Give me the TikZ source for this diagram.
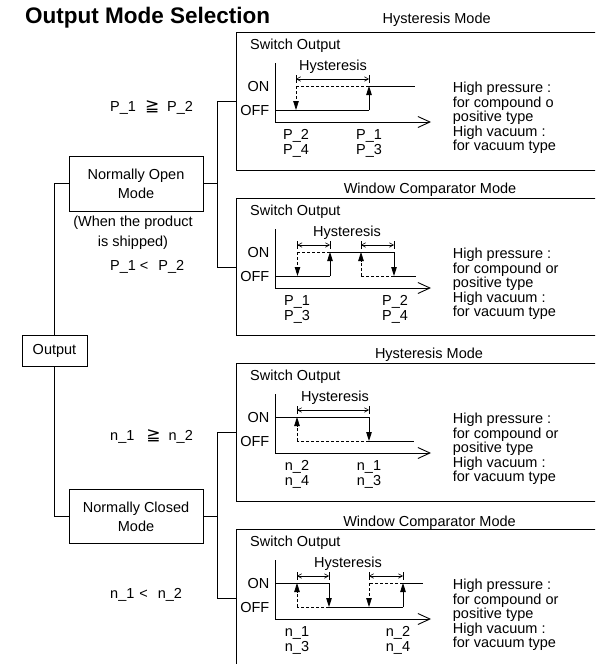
\documentclass[tikz,border=0pt]{standalone}
\usepackage{fontspec}
\setmainfont{Liberation Sans}
\newfontfamily\symfont{DejaVu Sans}
\usetikzlibrary{arrows.meta}

\begin{document}
\begin{tikzpicture}[x=1pt,y=-1pt]
% ----- columns (x) -----
\def\xAxis{275}
\def\xTip{431}
\def\xNote{452.7}

% ----- panel tops (y) -----
\def\yA{32}
\def\yB{198}
\def\yC{363}
\def\yD{529}

% levels, measured from a panel top
\def\yOn{54}
\def\yOff{78}
\def\yAx{90}
\def\yDim{47}

% styles
\tikzset{
  txt/.style={inner sep=0pt, font=\fontsize{14.5}{14.5}\selectfont},
  box/.style={draw, line width=0.9pt, align=center, font=\fontsize{14.5}{18.7}\selectfont},
  panel/.style={draw, line width=0.9pt, anchor=north west, minimum width=364pt, inner sep=0pt},
  pair/.style={txt, align=center, anchor=north, font=\fontsize{14.5}{15}\selectfont},
  note/.style={txt, align=left, anchor=north west},
  link/.style={line width=0.9pt},
  sig/.style={line width=1pt},
  dsig/.style={line width=0.8pt, dash pattern=on 3pt off 2pt},
  sw/.style={-{Triangle[length=9pt,width=5.5pt]}},
  axis/.style={line width=0.9pt, -{Straight Barb[length=12pt,width=11pt]}},
  tick/.style={line width=0.6pt},
  dim/.style={line width=0.6pt, {Straight Barb[length=4pt,width=4.5pt]}-{Straight Barb[length=4pt,width=4.5pt]}}
}
\newcommand\geqsign{{\symfont\fontsize{17}{17}\selectfont ≧}}

\useasboundingbox (0,0) rectangle (595,664);
\clip (0,0) rectangle (595,664);

% ----- title -----
\node[anchor=base west, inner sep=0pt, font=\fontsize{22.5}{27}\selectfont\bfseries] (title) at (25,23.3) {Output Mode Selection};

% ----- tree -----
\node[box, minimum width=65pt, minimum height=31pt] (out) at (54.5,350.5) {Output};
\node[box, minimum width=134pt, minimum height=55pt] (no) at (136,183.5) {Normally Open\\Mode};
\node[box, minimum width=134pt, minimum height=54pt] (nc) at (136,516.5) {Normally Closed\\Mode};
\node[txt, align=center, anchor=north, font=\fontsize{14.5}{20}\selectfont] (ship) at (133,216) {(When the product\\is shipped)};

\node[txt, anchor=base west] (condA) at (110,111.2) {P\_1\hspace{9pt}\geqsign\hspace{8pt}P\_2};
\node[txt, anchor=base west] (condB) at (110,270.2) {P\_1\hspace{4pt}<\hspace{10pt}P\_2};
\node[txt, anchor=base west] (condC) at (110,440.2) {n\_1\hspace{12pt}\geqsign\hspace{8pt}n\_2};
\node[txt, anchor=base west] (condD) at (110,598.2) {n\_1\hspace{5pt}<\hspace{10pt}n\_2};

% ----- panels -----
\node[panel, minimum height=138pt] (pA) at (236,\yA) {};
\node[panel, minimum height=137pt] (pB) at (236,\yB) {};
\node[panel, minimum height=138pt] (pC) at (236,\yC) {};
\node[panel, minimum height=138pt] (pD) at (236,\yD) {};

\node[txt, anchor=base] (tA) at (436.7,23.2) {Hysteresis Mode};
\node[txt, anchor=base] (tB) at (430,193.2) {Window Comparator Mode};
\node[txt, anchor=base] (tC) at (429,358.2) {Hysteresis Mode};
\node[txt, anchor=base] (tD) at (429.5,526.9) {Window Comparator Mode};

% ----- connectors -----
\draw[link] (out.north) |- (no.west);
\draw[link] (out.south) |- (nc.west);
\draw[link] (no.east) -- ++(14,0) coordinate (noSplit);
\draw[link] (pA.west) -| (noSplit) |- (pB.west);
\draw[link] (nc.east) -- ++(14,0) coordinate (ncSplit);
\draw[link] (pC.west) -| (ncSplit) |- (pD.west);

% ===== panel A : hysteresis, normally open =====
\begin{scope}[shift={(0,\yA)}]
\node[txt, anchor=base west] (swA) at (250,17) {Switch Output};
\node[txt, anchor=base east] (onA) at (269.5,59) {ON};
\node[txt, anchor=base east] (offA) at (269.5,83) {OFF};
\draw[axis] (\xAxis,31) |- (\xTip,\yAx);
\draw[tick] (296,43) -- (296,51);
\draw[tick] (369,43) -- (369,51);
\draw[dim] (296,\yDim) -- (369,\yDim);
\node[txt, anchor=base] (hyA) at (333,38) {Hysteresis};
\draw[sig] (\xAxis,\yOff) -- (369,\yOff);
\draw[sig,sw] (369,\yOff) -- (369,\yOn);
\draw[sig] (369,\yOn) -- (415,\yOn);
\draw[dsig] (369,\yOn) -- (296,\yOn);
\draw[dsig,sw] (296,\yOn) -- (296,\yOff);
\node[pair] (lA1) at (296,97.6) {P\_2\\P\_4};
\node[pair] (lA2) at (369,97.6) {P\_1\\P\_3};
\node[note] (nA) at (\xNote,49.8) {High pressure :\\for compound o\\positive type\\High vacuum :\\for vacuum type};
\end{scope}

% ===== panel B : window comparator, normally open =====
\begin{scope}[shift={(0,\yB)}]
\node[txt, anchor=base west] (swB) at (250,17) {Switch Output};
\node[txt, anchor=base east] (onB) at (269.5,59) {ON};
\node[txt, anchor=base east] (offB) at (269.5,83) {OFF};
\draw[axis] (\xAxis,31) |- (\xTip,\yAx);
\draw[tick] (297.5,43) -- (297.5,51);
\draw[tick] (330,43) -- (330,51);
\draw[tick] (361,43) -- (361,51);
\draw[tick] (394,43) -- (394,51);
\draw[dim] (297.5,\yDim) -- (330,\yDim);
\draw[dim] (361,\yDim) -- (394,\yDim);
\node[txt, anchor=base] (hyB) at (347,38) {Hysteresis};
\draw[sig] (\xAxis,\yOff) -- (330,\yOff);
\draw[sig,sw] (330,\yOff) -- (330,\yOn);
\draw[sig] (330,\yOn) -- (394,\yOn);
\draw[sig,sw] (394,\yOn) -- (394,\yOff);
\draw[sig] (394,\yOff) -- (415.5,\yOff);
\draw[dsig] (330,\yOn) -- (297.5,\yOn);
\draw[dsig,sw] (297.5,\yOn) -- (297.5,\yOff);
\draw[dsig] (394,\yOff) -- (361,\yOff);
\draw[dsig,sw] (361,\yOff) -- (361,\yOn);
\node[pair] (lB1) at (297,97.6) {P\_1\\P\_3};
\node[pair] (lB2) at (395,97.6) {P\_2\\P\_4};
\node[note] (nB) at (\xNote,49.8) {High pressure :\\for compound or\\positive type\\High vacuum :\\for vacuum type};
\end{scope}

% ===== panel C : hysteresis, normally closed =====
\begin{scope}[shift={(0,\yC)}]
\node[txt, anchor=base west] (swC) at (250,17) {Switch Output};
\node[txt, anchor=base east] (onC) at (269.5,59) {ON};
\node[txt, anchor=base east] (offC) at (269.5,83) {OFF};
\draw[axis] (\xAxis,31) |- (\xTip,\yAx);
\draw[tick] (297,43) -- (297,51);
\draw[tick] (369,43) -- (369,51);
\draw[dim] (297,\yDim) -- (369,\yDim);
\node[txt, anchor=base] (hyC) at (335,38) {Hysteresis};
\draw[sig] (\xAxis,\yOn) -- (369,\yOn);
\draw[sig,sw] (369,\yOn) -- (369,\yOff);
\draw[sig] (369,\yOff) -- (414,\yOff);
\draw[dsig] (369,\yOff) -- (297,\yOff);
\draw[dsig,sw] (297,\yOff) -- (297,\yOn);
\node[pair] (lC1) at (297,97.6) {n\_2\\n\_4};
\node[pair] (lC2) at (369,97.6) {n\_1\\n\_3};
\node[note] (nC) at (\xNote,49.8) {High pressure :\\for compound or\\positive type\\High vacuum :\\for vacuum type};
\end{scope}

% ===== panel D : window comparator, normally closed =====
\begin{scope}[shift={(0,\yD)}]
\node[txt, anchor=base west] (swD) at (250,17) {Switch Output};
\node[txt, anchor=base east] (onD) at (269.5,59) {ON};
\node[txt, anchor=base east] (offD) at (269.5,83) {OFF};
\draw[axis] (\xAxis,31) |- (\xTip,\yAx);
\draw[tick] (297,43) -- (297,51);
\draw[tick] (329,43) -- (329,51);
\draw[tick] (369,43) -- (369,51);
\draw[tick] (403,43) -- (403,51);
\draw[dim] (297,\yDim) -- (329,\yDim);
\draw[dim] (369,\yDim) -- (403,\yDim);
\node[txt, anchor=base] (hyD) at (348,38) {Hysteresis};
\draw[sig] (\xAxis,\yOn) -- (329,\yOn);
\draw[sig,sw] (329,\yOn) -- (329,\yOff);
\draw[sig] (329,\yOff) -- (403,\yOff);
\draw[sig,sw] (403,\yOff) -- (403,\yOn);
\draw[sig] (403,\yOn) -- (423,\yOn);
\draw[dsig] (329,\yOff) -- (297,\yOff);
\draw[dsig,sw] (297,\yOff) -- (297,\yOn);
\draw[dsig] (403,\yOn) -- (369,\yOn);
\draw[dsig,sw] (369,\yOn) -- (369,\yOff);
\node[pair] (lD1) at (297,97.6) {n\_1\\n\_3};
\node[pair] (lD2) at (398,97.6) {n\_2\\n\_4};
\node[note] (nD) at (\xNote,49.8) {High pressure :\\for compound or\\positive type\\High vacuum :\\for vacuum type};
\end{scope}
\end{tikzpicture}
\end{document}
